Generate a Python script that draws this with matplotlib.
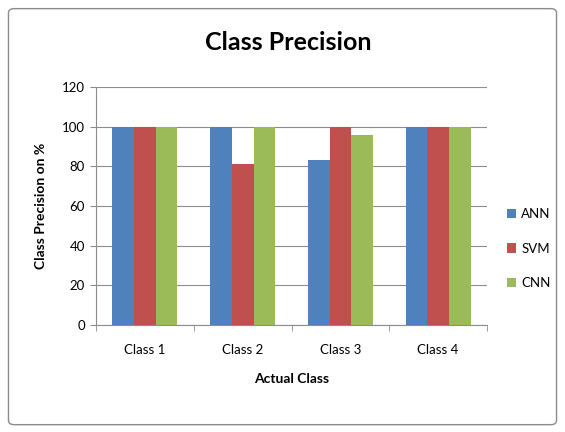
import matplotlib
matplotlib.use("Agg")
import matplotlib.pyplot as plt
import numpy as np
from matplotlib.patches import FancyBboxPatch

categories = ["Class 1", "Class 2", "Class 3", "Class 4"]
series = ["ANN", "SVM", "CNN"]
ann = [100, 100, 83, 100]
svm = [100, 81, 100, 100]
cnn = [100, 100, 95.5, 100]
colors = ["#4F81BD", "#C0504D", "#9BBB59"]

plt.rcParams["font.family"] = ["Lato", "DejaVu Sans"]

fig = plt.figure(figsize=(5.65, 4.32), dpi=100)
fig.patches.append(FancyBboxPatch((0.015, 0.017), 0.97, 0.963,
                                  boxstyle="round,pad=0,rounding_size=0.01",
                                  transform=fig.transFigure, fill=False,
                                  edgecolor="#8c8c8c", linewidth=1.0))

ax = fig.add_axes([0.170, 0.248, 0.692, 0.551])
x = np.arange(len(categories))
w = 0.222
for i, (vals, name) in enumerate(zip([ann, svm, cnn], series)):
    ax.bar(x + (i - 1) * w, vals, width=w, color=colors[i], label=name, zorder=3)

ax.set_xlim(-0.5, len(categories) - 0.5)
ax.set_ylim(0, 120)
ax.set_yticks(range(0, 121, 20))
ax.set_xticks(x)
ax.set_xticklabels(categories, fontsize=9.5)
ax.tick_params(axis="x", length=0, pad=14)
ax.tick_params(axis="y", length=4, color="#8c8c8c", labelsize=9.5, pad=4)
ax.set_xticks(np.arange(-0.5, len(categories), 1), minor=True)
ax.tick_params(axis="x", which="minor", length=4, color="#8c8c8c")
ax.grid(axis="y", color="#8c8c8c", linewidth=0.8, zorder=0)
for s in ["top", "right"]:
    ax.spines[s].set_visible(False)
for s in ["left", "bottom"]:
    ax.spines[s].set_color("#8c8c8c")

ax.set_xlabel("Actual Class", fontsize=10, fontweight="bold", labelpad=12)
ax.set_ylabel("Class Precision on %", fontsize=10, fontweight="bold", labelpad=11)
fig.text(0.51, 0.902, "Class Precision", ha="center", va="center",
         fontsize=18, fontweight="bold")

ax.legend(loc="center left", bbox_to_anchor=(1.02, 0.32), frameon=False,
          fontsize=9.5, handlelength=0.7, handleheight=0.7, labelspacing=1.7,
          handletextpad=0.4)

fig.savefig("out.png", dpi=100)
